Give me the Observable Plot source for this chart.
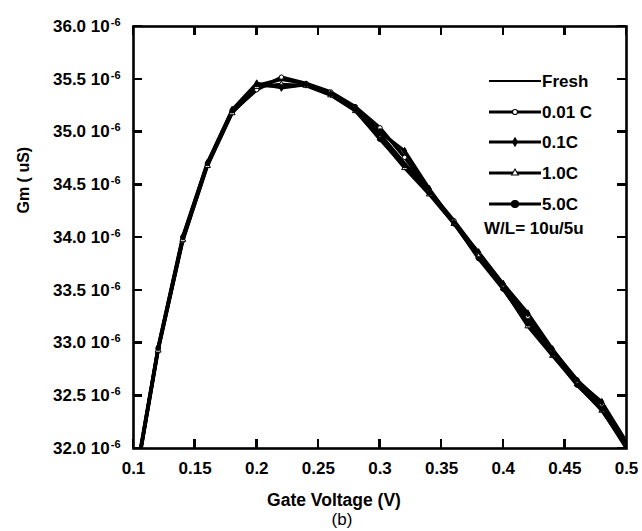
<!DOCTYPE html>
<html><head><meta charset="utf-8">
<script src="https://cdn.jsdelivr.net/npm/d3@7"></script>
<script src="https://cdn.jsdelivr.net/npm/@observablehq/plot@0.6"></script>
<style>
body{margin:0;background:#fff}
#chart{position:relative;width:642px;height:531px}
</style>
</head><body><div id="chart"></div>
<script>
// Gate voltage (V)
const gateVoltage = [0.10,0.12,0.14,0.16,0.18,0.20,0.22,0.24,0.26,0.28,0.30,0.32,0.34,0.36,0.38,0.40,0.42,0.44,0.46,0.48,0.50];
// Gm in units of 10^-6
const fresh  = [31.60,32.95,33.99,34.70,35.20,35.44,35.50,35.46,35.37,35.22,34.98,34.70,34.43,34.15,33.84,33.53,33.20,32.90,32.63,32.38,32.03];
const c001   = [31.58,32.94,33.97,34.69,35.19,35.40,35.52,35.46,35.38,35.24,35.04,34.76,34.44,34.16,33.85,33.55,33.25,32.93,32.65,32.42,32.05];
const c01    = [31.62,32.96,34.01,34.71,35.21,35.46,35.42,35.45,35.36,35.23,35.00,34.82,34.46,34.14,33.86,33.56,33.28,32.94,32.64,32.44,32.06];
const c10    = [31.59,32.93,33.98,34.68,35.18,35.43,35.45,35.44,35.35,35.20,34.94,34.66,34.41,34.13,33.82,33.52,33.16,32.88,32.61,32.36,32.02];
const c50    = [31.60,32.95,34.00,34.70,35.20,35.45,35.43,35.45,35.36,35.21,34.93,34.68,34.42,34.14,33.80,33.51,33.18,32.89,32.60,32.37,32.00];
const seriesNames = ["Fresh","0.01 C","0.1C","1.0C","5.0C"];
const seriesValues = [fresh, c001, c01, c10, c50];
const seriesSymbols = [null, "circle", "diamond", "triangle", "circle"];
const seriesFills = [null, "white", "black", "white", "black"];
const xTicks = [0.1,0.15,0.2,0.25,0.3,0.35,0.4,0.45,0.5];
const yTicks = [32.0,32.5,33.0,33.5,34.0,34.5,35.0,35.5,36.0];
const noteText = "W/L= 10u/5u";

const rows = seriesNames.flatMap((s, k) => gateVoltage.map((v, i) => ({series: s, k, v, gm: seriesValues[k][i]})));
const markerRows = rows.filter(d => seriesSymbols[d.k]);

const W = 642, H = 531, mL = 133, mR = 16, mT = 26, mB = 83;
const tick = 9;
const font = "'Liberation Sans', Arial, sans-serif";
const plot = Plot.plot({
  width: W, height: H,
  marginLeft: mL, marginRight: mR, marginTop: mT, marginBottom: mB,
  style: {fontFamily: font, fontSize: "17px", fontWeight: "bold", color: "black", background: "white"},
  x: {domain: [0.1, 0.5]},
  y: {domain: [32, 36]},
  marks: [
    Plot.line(rows, {x: "v", y: "gm", z: "series", stroke: "black", strokeWidth: 3.4, strokeLinejoin: "round", clip: true}),
    Plot.dot(markerRows, {x: "v", y: "gm", symbol: d => seriesSymbols[d.k], fill: d => seriesFills[d.k], stroke: "black", strokeWidth: 1, r: 2.2, clip: true}),
    Plot.frame({stroke: "black", strokeWidth: 2.6}),
    Plot.axisX(xTicks, {anchor: "bottom", tickSize: 0, tickPadding: 13, tickFormat: d => String(+d.toFixed(2)), label: null, fontSize: 17}),
    Plot.axisY(yTicks, {anchor: "left", tickSize: 0, tickPadding: 13, tickFormat: d => d.toFixed(1) + " 10", label: null, fontSize: 17}),
    Plot.text(["Gate Voltage (V)"], {frameAnchor: "bottom", dy: 52, dx: -46, text: d => d, fontSize: 17.5, fontWeight: "bold", lineAnchor: "middle"}),
    Plot.text(["(b)"], {frameAnchor: "bottom", dy: 71, dx: -38, text: d => d, fontSize: 17, fontWeight: "normal", lineAnchor: "middle"}),
    Plot.text(["Gm ( uS)"], {frameAnchor: "left", dx: -110, dy: -24, rotate: -90, text: d => d, fontSize: 16, fontWeight: "bold", lineAnchor: "middle"})
  ]
});

const svg = d3.select(plot);

// inward ticks on all four sides, placed through the plot's own scales
const sx = plot.scale("x"), sy = plot.scale("y");
const x0 = mL, x1 = W - mR, y0 = mT, y1 = H - mB;
const tickPath = d3.path();
yTicks.forEach(v => {
  const py = sy.apply(v);
  tickPath.moveTo(x0, py); tickPath.lineTo(x0 + tick, py);
  tickPath.moveTo(x1 - tick, py); tickPath.lineTo(x1, py);
});
xTicks.forEach(v => {
  const px = sx.apply(v);
  tickPath.moveTo(px, y1 - tick); tickPath.lineTo(px, y1);
  tickPath.moveTo(px, y0); tickPath.lineTo(px, y0 + tick);
});
svg.append("path").attr("d", tickPath.toString())
  .attr("stroke", "#000").attr("stroke-width", 2.5).attr("fill", "none").attr("shape-rendering", "crispEdges");

// superscript exponents on y tick labels
svg.selectAll('g[aria-label="y-axis tick label"] text').each(function() {
  d3.select(this).append("tspan").attr("dy", "-0.55em").attr("dx", "1").attr("font-size", "11px").text("-6");
});

// legend inside the plot area
const lg = svg.append("g").attr("font-family", font).attr("font-weight", "bold").attr("font-size", "17px").attr("text-anchor", "start");
const rowY = [81, 112, 142, 173, 204];
const sym = {circle: d3.symbolCircle, diamond: d3.symbolDiamond, triangle: d3.symbolTriangle};
seriesNames.forEach((name, k) => {
  const g = lg.append("g").attr("transform", `translate(0,${rowY[k]})`);
  g.append("line").attr("x1", 489).attr("x2", 541).attr("stroke", "black").attr("stroke-width", k === 0 ? 2.2 : 2.8);
  if (seriesSymbols[k]) {
    g.append("path").attr("transform", "translate(515,0)")
      .attr("d", d3.symbol(sym[seriesSymbols[k]], k === 4 ? 40 : 20)())
      .attr("fill", seriesFills[k]).attr("stroke", "black").attr("stroke-width", 1.1);
  }
  g.append("text").attr("x", 542).attr("dy", "0.36em").text(name);
});
lg.append("text").attr("x", 484).attr("y", 228).attr("dy", "0.36em").text(noteText);

document.getElementById("chart").appendChild(plot);
</script>
</body></html>
